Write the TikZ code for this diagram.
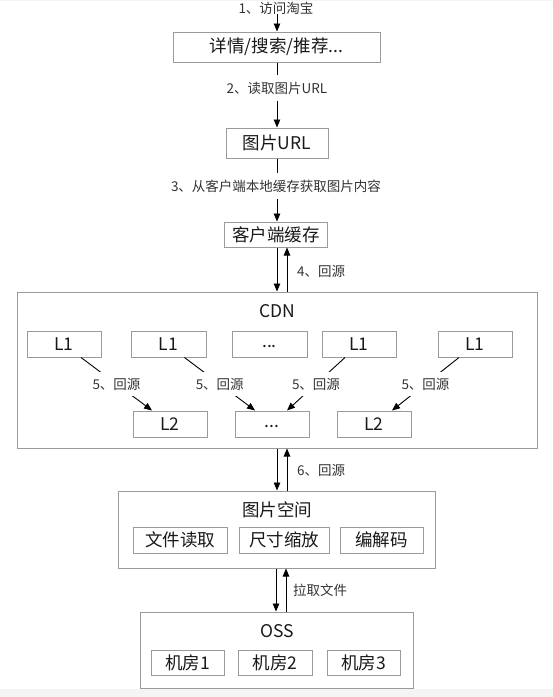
\documentclass[tikz,border=0pt]{standalone}
\usepackage{fontspec}
\setmainfont{Noto Sans CJK SC}
\usetikzlibrary{arrows.meta,calc}
\definecolor{boxline}{HTML}{9A9A9A}
\definecolor{lbltext}{HTML}{333333}
\definecolor{strip}{HTML}{F4F4F4}
\begin{document}
\begin{tikzpicture}[x=1pt,y=-1pt,
  box/.style={draw=boxline, line width=1pt, fill=white, inner sep=0pt,
    font=\fontsize{17.5}{18}\selectfont, text=black!90},
  title/.style={inner sep=0pt, font=\fontsize{17.5}{18}\selectfont, text=black!90},
  lbl/.style={inner sep=0pt, font=\fontsize{13.5}{14}\selectfont, text=lbltext},
  midlbl/.style={lbl, fill=white, minimum height=24pt, inner xsep=3pt},
  arr/.style={-{Triangle[length=8pt,width=6.5pt]}, line width=0.9pt, draw=black},
  ln/.style={line width=0.9pt, draw=black}]
\useasboundingbox (0,0) rectangle (553,697);
\fill[strip] (0,689) rectangle (553,697);
\fill[strip] (0,0) rectangle (553,1);

% top chain
\node[lbl] (t1) at (276,8) {1、访问淘宝};
\node[box, minimum width=207pt, minimum height=30pt] (top) at (276.5,47) {详情/搜索/推荐...};
\node[lbl, minimum height=26pt] (t2) at (277,88) {2、读取图片URL};
\node[box, minimum width=102pt, minimum height=30pt] (url) at (277,143) {图片URL};
\node[lbl, minimum height=26pt] (t3) at (276,186) {3、从客户端本地缓存获取图片内容};
\node[box, minimum width=103pt, minimum height=25pt] (cache) at (276,234.5) {客户端缓存};

\coordinate (xd) at (277,0);
\coordinate (xu) at (287,0);
\draw[arr] (t1.south -| xd) -- (top.north -| xd);
\draw[ln] (top.south -| xd) -- (t2.north -| xd);
\draw[arr] (t2.south -| xd) -- (url.north -| xd);
\draw[ln] (url.south -| xd) -- (t3.north -| xd);
\draw[arr] (t3.south -| xd) -- (cache.north -| xd);

% CDN
\node[box, minimum width=520pt, minimum height=156pt] (cdn) at (277,370) {};
\node[title] (cdnt) at (277,311) {CDN};
\node[box, minimum width=74pt, minimum height=26pt] (l1a) at (64,344) {L1};
\node[box, minimum width=75pt, minimum height=26pt] (l1b) at (168.5,344) {L1};
\node[box, minimum width=75pt, minimum height=26pt] (l1c) at (269.5,344) {\strut...};
\node[box, minimum width=74pt, minimum height=26pt] (l1d) at (359,344) {L1};
\node[box, minimum width=74pt, minimum height=26pt] (l1e) at (475,344) {L1};
\node[box, minimum width=74pt, minimum height=26pt] (l2a) at (170,424) {L2};
\node[box, minimum width=74pt, minimum height=26pt] (l2b) at (272,424) {\strut...};
\node[box, minimum width=74pt, minimum height=26pt] (l2c) at (374,424) {L2};

\draw[arr] ([xshift=17pt]l1a.south) -- node[midlbl] (e5a) {5、回源} ([xshift=-18pt]l2a.north);
\draw[arr] ([xshift=16pt]l1b.south) -- node[midlbl] (e5b) {5、回源} ([xshift=-17pt]l2b.north);
\draw[arr] ([xshift=-14pt]l1d.south) -- node[midlbl] (e5c) {5、回源} ([xshift=15pt]l2b.north);
\draw[arr] ([xshift=-16pt]l1e.south) -- node[midlbl] (e5d) {5、回源} ([xshift=18pt]l2c.north);

\draw[arr] (cache.south -| xd) -- (cdn.north -| xd);
\draw[arr] (cdn.north -| xu) -- (cache.south -| xu);
\node[lbl, anchor=west] (t4) at (297,271) {4、回源};

% image space
\node[box, minimum width=317pt, minimum height=77pt] (img) at (276.5,529.5) {};
\node[title] (imgt) at (277,510) {图片空间};
\node[box, minimum width=94pt, minimum height=26pt] (f1) at (180,540) {文件读取};
\node[box, minimum width=90pt, minimum height=26pt] (f2) at (284,540) {尺寸缩放};
\node[box, minimum width=83pt, minimum height=26pt] (f3) at (381.5,540) {编解码};

\draw[arr] (cdn.south -| xd) -- (img.north -| xd);
\draw[arr] (img.north -| xu) -- (cdn.south -| xu);
\node[lbl, anchor=west] (t6) at (297,470) {6、回源};

% OSS
\node[box, minimum width=273pt, minimum height=76pt] (oss) at (276.5,650) {};
\node[title] (osst) at (277,631) {OSS};
\node[box, minimum width=73pt, minimum height=25pt] (r1) at (187.5,662.5) {机房1};
\node[box, minimum width=74pt, minimum height=25pt] (r2) at (275,662.5) {机房2};
\node[box, minimum width=73pt, minimum height=25pt] (r3) at (363.5,662.5) {机房3};

\coordinate (xd2) at (276,0);
\coordinate (xu2) at (286,0);
\draw[arr] (img.south -| xd2) -- (oss.north -| xd2);
\draw[arr] (oss.north -| xu2) -- (img.south -| xu2);
\node[lbl, anchor=west] (tp) at (293,590) {拉取文件};
\end{tikzpicture}
\end{document}
